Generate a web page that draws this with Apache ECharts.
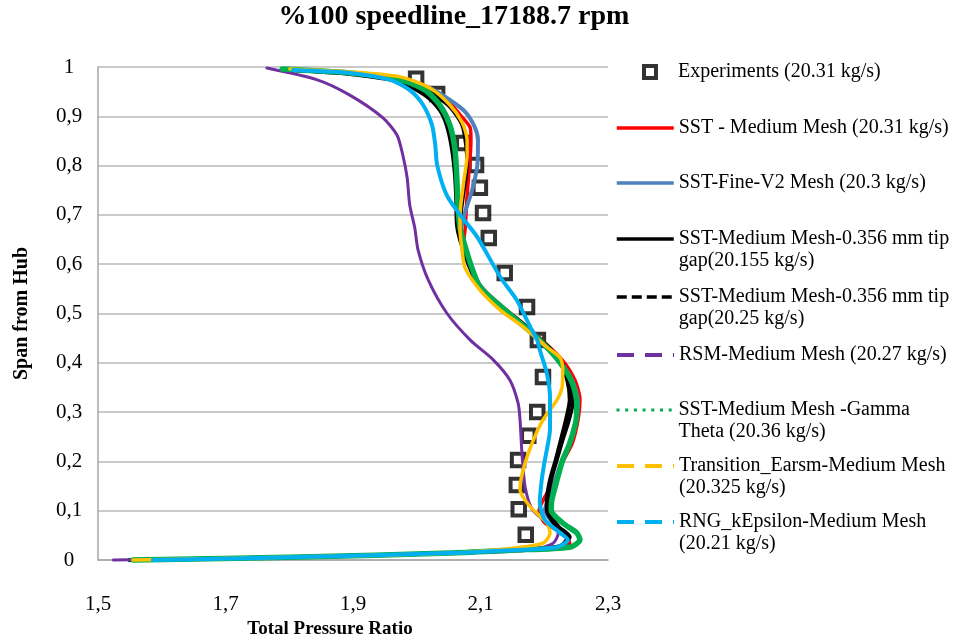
<!DOCTYPE html>
<html><head><meta charset="utf-8">
<script src="https://cdn.jsdelivr.net/npm/echarts@6/dist/echarts.min.js"></script>
<style>html,body{margin:0;padding:0;background:#fff}#c{width:971px;height:635px}</style>
</head><body><div id="c"></div>
<script>
// ---- data (x = Total Pressure Ratio, y = Span from Hub) ----
const xTicks = [1.5, 1.7, 1.9, 2.1, 2.3];
const yTicks = [0, 0.1, 0.2, 0.3, 0.4, 0.5, 0.6, 0.7, 0.8, 0.9, 1];

const seriesNames = [
  'Experiments (20.31 kg/s)',
  'SST - Medium Mesh (20.31 kg/s)',
  'SST-Fine-V2 Mesh (20.3 kg/s)',
  'SST-Medium Mesh-0.356 mm tip\ngap(20.155 kg/s)',
  'SST-Medium Mesh-0.356 mm tip\ngap(20.25 kg/s)',
  'RSM-Medium Mesh (20.27 kg/s)',
  'SST-Medium Mesh -Gamma\nTheta (20.36 kg/s)',
  'Transition_Earsm-Medium Mesh\n(20.325 kg/s)',
  'RNG_kEpsilon-Medium Mesh\n(20.21 kg/s)'
];

const experiments = [
  [1.999,0.976],[2.032,0.945],[2.073,0.846],[2.093,0.801],[2.099,0.755],[2.104,0.704],
  [2.113,0.653],[2.138,0.582],[2.173,0.513],[2.190,0.446],[2.198,0.371],[2.189,0.300],
  [2.175,0.252],[2.159,0.203],[2.157,0.152],[2.160,0.103],[2.171,0.051]
];

const sstMedium = [
  [1.801,0.994],[1.895,0.988],[1.974,0.976],[2.021,0.953],[2.052,0.927],[2.068,0.903],
  [2.084,0.876],[2.085,0.852],[2.084,0.822],[2.079,0.740],[2.076,0.673],[2.074,0.649],
  [2.084,0.604],[2.099,0.558],[2.126,0.523],[2.162,0.485],[2.193,0.450],[2.228,0.406],
  [2.248,0.365],[2.256,0.325],[2.253,0.284],[2.244,0.237],[2.229,0.199],[2.217,0.162],
  [2.201,0.128],[2.192,0.101],[2.201,0.075],[2.233,0.051],[2.240,0.034],[2.225,0.024],
  [2.146,0.020],[2.052,0.014],[1.817,0.006],[1.550,0]
];

const sstFineV2 = [
  [1.801,0.994],[1.895,0.988],[1.974,0.978],[2.021,0.957],[2.052,0.933],[2.076,0.909],
  [2.091,0.878],[2.096,0.852],[2.095,0.801],[2.087,0.751],[2.076,0.706],[2.068,0.659],
  [2.071,0.639],[2.080,0.604],[2.099,0.558],[2.126,0.521],[2.162,0.483],[2.193,0.448],
  [2.225,0.402],[2.245,0.361],[2.253,0.320],[2.250,0.284],[2.240,0.237],[2.228,0.203],
  [2.217,0.162],[2.206,0.122],[2.201,0.101],[2.217,0.071],[2.240,0.047],[2.225,0.026],
  [2.146,0.020],[2.052,0.014],[1.817,0.006],[1.550,0]
];

const sstTipGap155 = [
  [1.801,0.994],[1.895,0.986],[1.974,0.970],[2.013,0.943],[2.036,0.913],[2.047,0.882],
  [2.055,0.836],[2.060,0.781],[2.062,0.730],[2.063,0.680],[2.068,0.649],[2.080,0.604],
  [2.096,0.558],[2.123,0.523],[2.159,0.487],[2.190,0.452],[2.222,0.410],[2.236,0.365],
  [2.240,0.325],[2.234,0.284],[2.226,0.243],[2.218,0.203],[2.209,0.162],[2.204,0.122],
  [2.204,0.101],[2.220,0.067],[2.237,0.047],[2.225,0.028],[2.146,0.020],[2.052,0.014],
  [1.817,0.006],[1.550,0]
];

const sstTipGap25 = [
  [1.801,0.994],[1.895,0.988],[1.974,0.974],[2.021,0.949],[2.052,0.919],[2.071,0.882],
  [2.077,0.842],[2.079,0.801],[2.073,0.740],[2.068,0.680],[2.071,0.649],[2.082,0.604],
  [2.098,0.558],[2.124,0.523],[2.160,0.485],[2.192,0.450],[2.225,0.406],[2.240,0.361],
  [2.245,0.320],[2.239,0.284],[2.229,0.243],[2.220,0.203],[2.211,0.162],[2.206,0.122],
  [2.206,0.101],[2.222,0.069],[2.240,0.047],[2.225,0.028],[2.146,0.020],[2.052,0.014],
  [1.817,0.006],[1.550,0]
];

const rsmMedium = [
  [1.765,0.998],[1.844,0.974],[1.895,0.943],[1.947,0.897],[1.969,0.862],[1.978,0.822],
  [1.985,0.775],[1.989,0.720],[1.997,0.673],[2.002,0.629],[2.018,0.568],[2.047,0.501],
  [2.084,0.446],[2.120,0.406],[2.146,0.365],[2.159,0.318],[2.162,0.284],[2.165,0.217],
  [2.170,0.148],[2.182,0.101],[2.214,0.067],[2.222,0.055],[2.214,0.034],[2.178,0.020],
  [2.052,0.014],[1.817,0.006],[1.524,0]
];

const sstGammaTheta = [
  [1.789,0.996],[1.895,0.988],[1.974,0.974],[2.013,0.953],[2.036,0.923],[2.052,0.882],
  [2.060,0.832],[2.063,0.771],[2.065,0.710],[2.068,0.673],[2.073,0.649],[2.084,0.602],
  [2.099,0.554],[2.126,0.521],[2.162,0.481],[2.193,0.446],[2.225,0.400],[2.244,0.359],
  [2.251,0.318],[2.250,0.284],[2.240,0.237],[2.229,0.203],[2.220,0.162],[2.212,0.122],
  [2.211,0.101],[2.229,0.075],[2.251,0.055],[2.256,0.041],[2.240,0.026],[2.146,0.020],
  [2.052,0.014],[1.817,0.006],[1.555,0]
];

const transitionEarsm = [
  [1.801,0.996],[1.895,0.990],[1.974,0.980],[2.021,0.957],[2.052,0.923],[2.071,0.888],
  [2.079,0.852],[2.079,0.822],[2.073,0.761],[2.068,0.700],[2.068,0.669],[2.071,0.629],
  [2.076,0.592],[2.099,0.548],[2.131,0.507],[2.167,0.473],[2.204,0.432],[2.225,0.410],
  [2.229,0.385],[2.228,0.351],[2.220,0.325],[2.198,0.284],[2.181,0.237],[2.167,0.183],
  [2.162,0.142],[2.178,0.108],[2.204,0.075],[2.209,0.055],[2.198,0.034],[2.151,0.024],
  [2.052,0.014],[1.817,0.006],[1.555,0]
];

const rngKEpsilon = [
  [1.806,0.994],[1.895,0.988],[1.958,0.974],[1.989,0.953],[2.010,0.923],[2.024,0.882],
  [2.029,0.842],[2.032,0.801],[2.047,0.740],[2.068,0.700],[2.095,0.655],[2.131,0.574],
  [2.157,0.527],[2.178,0.473],[2.189,0.446],[2.193,0.426],[2.204,0.379],[2.209,0.331],
  [2.209,0.264],[2.206,0.237],[2.201,0.203],[2.196,0.162],[2.193,0.116],[2.201,0.081],
  [2.225,0.055],[2.237,0.041],[2.220,0.026],[2.146,0.020],[2.052,0.014],[1.817,0.006],
  [1.586,0]
];

// ---- styling / layout ----
const FONT = 'Liberation Serif';
const lineSeriesData = [sstMedium, sstFineV2, sstTipGap155, sstTipGap25, rsmMedium, sstGammaTheta, transitionEarsm, rngKEpsilon];
const lineStyles = [
  {color:'#FF0000', width:3.5, legendType:'solid', legendWidth:3.5},
  {color:'#4F81BD', width:4,   legendType:'solid', legendWidth:3.5},
  {color:'#000000', width:4,   legendType:'solid', legendWidth:3.5},
  {color:'#000000', width:3.5, legendType:[10,5],  legendWidth:3.5},
  {color:'#7030A0', width:3,   legendType:[17,11], legendWidth:4},
  {color:'#00B050', width:5.5, legendType:[3,5.7], legendWidth:3},
  {color:'#FFC000', width:3.5, legendType:[17,11], legendWidth:4},
  {color:'#00B0F0', width:4,   legendType:[17,11], legendWidth:4}
];
const legendCenters = [72, 128, 183, 239, 297, 355, 410, 466, 522];

const series = [{
  name: seriesNames[0], type: 'scatter', data: experiments,
  symbol: 'rect', symbolSize: 12.5, z: 1,
  itemStyle: {color:'#ffffff', borderColor:'#000000', borderWidth:4}
}];
lineSeriesData.forEach((d, i) => {
  const s = lineStyles[i];
  series.push({
    name: seriesNames[i+1], type: 'line', data: d, symbol: 'none', showSymbol: false,
    smooth: 0.25, z: 2 + i, clip: false,
    lineStyle: {color: s.color, width: s.width, type: 'solid', cap: 'round', join: 'round'},
    itemStyle: {color: s.color}
  });
});

const legends = seriesNames.map((n, i) => {
  const two = n.indexOf('\n') >= 0;
  const base = {
    data: [n], padding: 0, selectedMode: false, orient: 'vertical',
    top: legendCenters[i] - (two ? 33 : 11),
    // two-line entries: an empty leading line keeps the first text line level with the icon
    formatter: name => two ? ' \n' + name : name,
    textStyle: {fontFamily: FONT, fontSize: 20, color: '#000', lineHeight: 22,
      padding: i === 0 ? [0,0,0,17] : 0}
  };
  if (i === 0) {
    return Object.assign(base, {left: 642, itemWidth: 12, itemHeight: 12,
      itemStyle: {color: '#ffffff', borderColor: '#000000', borderWidth: 4}});
  }
  const s = lineStyles[i-1];
  return Object.assign(base, {
    left: 615, itemWidth: 57, itemHeight: 14,
    lineStyle: {type: s.legendType, width: s.legendWidth, color: s.color, cap: 'butt'},
    itemStyle: {opacity: 0}
  });
});

const fmt = v => (v === 0 || v === 1) ? String(v) : v.toFixed(1).replace('.', ',');

const option = {
  animation: false,
  backgroundColor: '#ffffff',
  title: {
    text: '%100 speedline_17188.7 rpm', left: 454, top: 3, padding: 0, textAlign: 'center',
    textStyle: {fontFamily: FONT, fontWeight: 'bold', fontSize: 28, color: '#000'}
  },
  legend: legends,
  grid: {left: 98, right: 363, top: 67, bottom: 75, containLabel: false, outerBoundsMode: 'none'},
  xAxis: {
    type: 'value', min: 1.5, max: 2.3,
    name: 'Total Pressure Ratio', nameLocation: 'middle', nameGap: 55,
    nameTextStyle: {fontFamily: FONT, fontWeight: 'bold', fontSize: 19, color: '#000', padding: [0,46,0,0]},
    axisLine: {show: true, lineStyle: {color: '#a6a6a6', width: 1.5}},
    axisTick: {show: false},
    splitLine: {show: false},
    axisLabel: {customValues: xTicks, formatter: v => fmt(v), margin: 34,
      fontFamily: FONT, fontSize: 21, color: '#000'}
  },
  yAxis: {
    type: 'value', min: 0, max: 1, interval: 0.1,
    name: 'Span from Hub', nameLocation: 'middle', nameGap: 66,
    nameTextStyle: {fontFamily: FONT, fontWeight: 'bold', fontSize: 20, color: '#000'},
    axisLine: {show: true, lineStyle: {color: '#a6a6a6', width: 1.5}},
    axisTick: {show: false},
    splitLine: {show: true, lineStyle: {color: '#b8b8b8', width: 1.5}},
    axisLabel: {formatter: v => fmt(v), margin: 29, align: 'center',
      fontFamily: FONT, fontSize: 21, color: '#000'}
  },
  series: series
};

const chart = echarts.init(document.getElementById('c'), null, {renderer: 'canvas'});
chart.setOption(option);
</script>
</body></html>
